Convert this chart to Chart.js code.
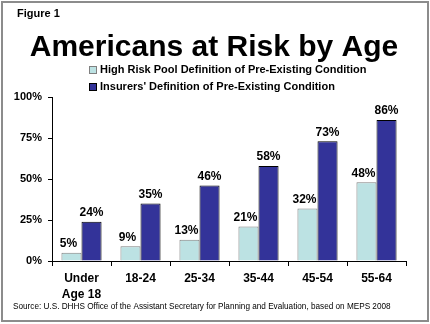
<!DOCTYPE html>
<html>
<head>
<meta charset="utf-8">
<script src="https://cdn.jsdelivr.net/npm/chart.js@4.4.0/dist/chart.umd.min.js"></script>
<style>
html, body { margin: 0; padding: 0; background: #fff; }
#wrap { width: 430px; height: 324px; }
</style>
</head>
<body>
<div id="wrap"><canvas id="riskChart" width="430" height="324"></canvas></div>
<script>
// Americans at risk of having a pre-existing condition, by age
const ageGroups = [['Under', 'Age 18'], '18-24', '25-34', '35-44', '45-54', '55-64'];
const highRiskPool = [5, 9, 13, 21, 32, 48];
const insurers = [24, 35, 46, 58, 73, 86];
const seriesNames = ['High Risk Pool Definition of Pre-Existing Condition', "Insurers' Definition of Pre-Existing Condition"];
const yTicks = [0, 25, 50, 75, 100];

const FONT = "'Liberation Sans', Arial, sans-serif";

// draws frame, headings, legend, source line and value labels
const decorations = {
    id: 'decorations',
    beforeDraw(chart) {
        const ctx = chart.ctx;
        ctx.save();
        ctx.fillStyle = '#fff';
        ctx.fillRect(0, 0, chart.width, chart.height);
        ctx.restore();
    },
    afterDraw(chart) {
        const ctx = chart.ctx;
        ctx.save();
        // frame
        ctx.strokeStyle = '#8c8c8c';
        ctx.lineWidth = 2;
        ctx.strokeRect(2, 2, 426, 319);

        ctx.fillStyle = '#000';
        ctx.textBaseline = 'alphabetic';
        ctx.textAlign = 'left';
        ctx.font = 'bold 11px ' + FONT;
        ctx.fillText('Figure 1', 17, 17);

        ctx.textAlign = 'center';
        ctx.font = 'bold 30px ' + FONT;
        ctx.fillText('Americans at Risk by Age', 214, 56);

        // legend
        ctx.textAlign = 'left';
        ctx.textBaseline = 'middle';
        ctx.font = 'bold 11px ' + FONT;
        chart.data.datasets.forEach(function (ds, i) {
            let y = 70 + i * 17;
            ctx.fillStyle = ds.backgroundColor;
            ctx.fillRect(89, y - 4, 8, 8);
            ctx.strokeStyle = ds.borderColor;
            ctx.lineWidth = 1;
            ctx.strokeRect(89.5, y - 3.5, 7, 7);
            ctx.fillStyle = '#000';
            ctx.fillText(ds.label, 100, y);
        });

        // value labels
        ctx.textAlign = 'center';
        ctx.textBaseline = 'bottom';
        ctx.font = 'bold 12px ' + FONT;
        chart.data.datasets.forEach(function (ds, i) {
            chart.getDatasetMeta(i).data.forEach(function (bar, j) {
                let dx = i == 0 ? -3 : 0;
                ctx.fillText(ds.data[j] + '%', bar.x + dx, bar.y - 3);
            });
        });

        // source
        ctx.textAlign = 'left';
        ctx.textBaseline = 'alphabetic';
        ctx.font = '8.2px ' + FONT;
        ctx.fillText('Source: U.S. DHHS Office of the Assistant Secretary for Planning and Evaluation, based on MEPS 2008', 13, 309);
        ctx.restore();
    }
};

let ctx = document.getElementById('riskChart').getContext('2d');
let myChart = new Chart(ctx, {
    type: 'bar',
    data: {
        labels: ageGroups,
        datasets: [{
            label: seriesNames[0],
            data: highRiskPool,
            backgroundColor: '#bce2e3',
            borderColor: '#808080',
            borderWidth: 1,
            borderSkipped: 'bottom'
        }, {
            label: seriesNames[1],
            data: insurers,
            backgroundColor: '#333399',
            borderColor: '#000000',
            borderWidth: 1,
            borderSkipped: 'bottom'
        }]
    },
    options: {
        responsive: false,
        devicePixelRatio: 1,
        animation: false,
        layout: { padding: { top: 97, right: 24, left: 0, bottom: 0 } },
        datasets: { bar: { categoryPercentage: 0.68, barPercentage: 1.0 } },
        plugins: {
            legend: { display: false },
            title: { display: false },
            tooltip: { enabled: false }
        },
        scales: {
            x: {
                afterFit: function (scale) { scale.height = 63; },
                grid: {
                    offset: true,
                    drawOnChartArea: false,
                    drawTicks: true,
                    tickLength: 5,
                    color: '#000'
                },
                border: { color: '#000', width: 1 },
                ticks: {
                    color: '#000',
                    padding: 5,
                    font: { family: FONT, size: 12, weight: 'bold', lineHeight: 1.3 }
                }
            },
            y: {
                min: 0,
                max: 100,
                afterFit: function (scale) { scale.width = 52; },
                afterBuildTicks: function (scale) {
                    scale.ticks = yTicks.map(function (v) { return { value: v }; });
                },
                grid: {
                    drawOnChartArea: false,
                    drawTicks: true,
                    tickLength: 4,
                    color: '#000'
                },
                border: { color: '#000', width: 1 },
                ticks: {
                    color: '#000',
                    padding: 6,
                    font: { family: FONT, size: 11, weight: 'bold' },
                    callback: function (v) { return v + '%'; }
                }
            }
        }
    },
    plugins: [decorations]
});
</script>
</body>
</html>
